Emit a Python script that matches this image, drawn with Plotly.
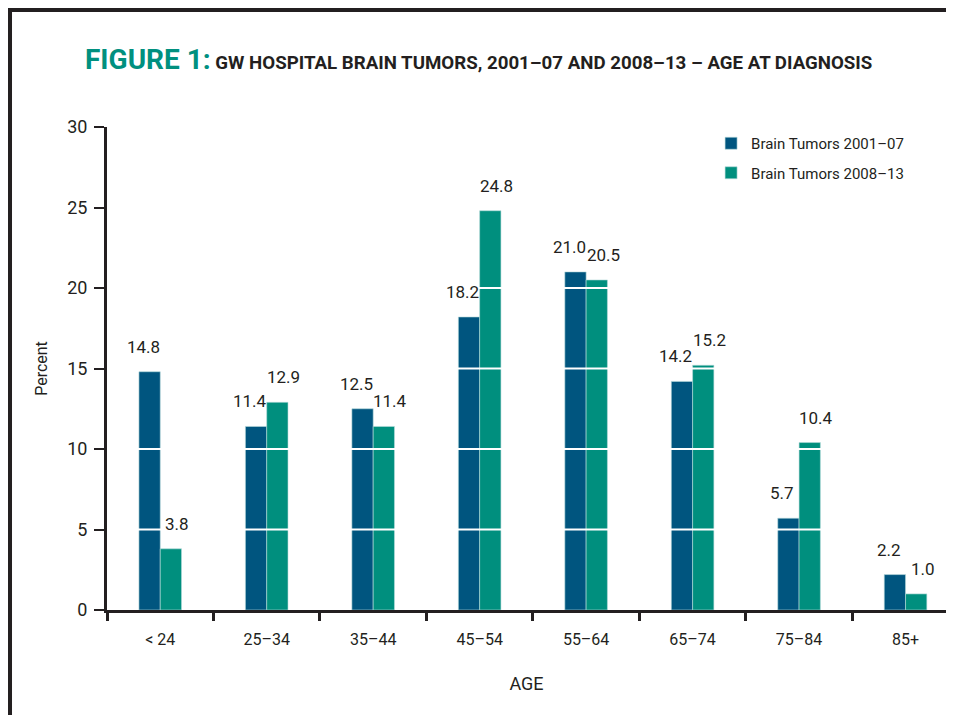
import plotly.graph_objects as go

# Age groups and percentages per period
age_groups = ["< 24", "25–34", "35–44", "45–54", "55–64", "65–74", "75–84", "85+"]
tumors_2001_07 = [14.8, 11.4, 12.5, 18.2, 21.0, 14.2, 5.7, 2.2]
tumors_2008_13 = [3.8, 12.9, 11.4, 24.8, 20.5, 15.2, 10.4, 1.0]
y_ticks = [0, 5, 10, 15, 20, 25, 30]

DARK = "#00557f"
TEAL = "#008f7e"
INK = "#231f20"
FONT = "Roboto, Liberation Sans, sans-serif"

fig = go.Figure()
fig.add_trace(go.Bar(x=age_groups, y=tumors_2001_07, name="Brain Tumors 2001–07",
                     legendgroup="a",
                     marker=dict(color=DARK, line=dict(color="#b9dcdc", width=0.6))))
fig.add_trace(go.Bar(x=age_groups, y=tumors_2008_13, name="Brain Tumors 2008–13",
                     legendgroup="b",
                     marker=dict(color=TEAL, line=dict(color="#b9dcdc", width=0.6))))

# Value labels above the bars, nudged apart like the original
annotations = []
for vals, shift in [(tumors_2001_07, -17), (tumors_2008_13, 17)]:
    for i, v in enumerate(vals):
        annotations.append(dict(
            x=i, y=v, xref="x", yref="y", text=f"{v:.1f}", showarrow=False,
            xshift=shift, yshift=25,
            font=dict(family=FONT, size=17, color=INK),
        ))

# White grid lines drawn over the bars
shapes = []
for t in y_ticks[1:-1]:
    shapes.append(dict(type="line", xref="paper", yref="y", x0=0, x1=1, y0=t, y1=t,
                       line=dict(color="white", width=2), layer="above"))

# Frame around the figure
shapes.append(dict(type="line", xref="paper", yref="paper", x0=-0.1156, x1=-0.1156,
                   y0=1.242, y1=-0.25, line=dict(color=INK, width=4), layer="above"))
shapes.append(dict(type="line", xref="paper", yref="paper", x0=-0.118, x1=1.05,
                   y0=1.242, y1=1.242, line=dict(color=INK, width=4), layer="above"))

fig.update_layout(
    width=938,
    height=707,
    margin=dict(l=99, r=0, t=119, b=105),
    plot_bgcolor="white",
    paper_bgcolor="white",
    barmode="group",
    bargap=0.6,
    bargroupgap=0,
    font=dict(family=FONT, size=17, color=INK),
    title=dict(
        text="<b><span style='color:#00907f;font-size:28px'>FIGURE 1:</span> "
             "GW HOSPITAL BRAIN TUMORS, 2001–07 AND 2008–13 – AGE AT DIAGNOSIS</b>",
        xref="container", x=77 / 938, xanchor="left",
        yref="container", y=1 - 54 / 707, yanchor="middle",
        font=dict(family=FONT, size=18.7, color=INK),
    ),
    legend=dict(x=0.72, y=1.0, xanchor="left", yanchor="top",
                font=dict(family=FONT, size=15, color=INK),
                bgcolor="rgba(0,0,0,0)", tracegroupgap=7),
    annotations=annotations,
    shapes=shapes,
)

fig.update_xaxes(
    range=[-0.5, 7.38],
    showline=True, linecolor=INK, linewidth=3,
    ticks="outside", tickson="boundaries", ticklen=8, tickwidth=3, tickcolor=INK,
    ticklabelstandoff=13,
    showgrid=False,
    title=dict(text="AGE", font=dict(family=FONT, size=18, color=INK), standoff=30),
    tickfont=dict(family=FONT, size=16, color=INK),
)
fig.update_yaxes(
    range=[0, 30], tickvals=y_ticks,
    showline=True, linecolor=INK, linewidth=3,
    ticks="outside", ticklen=10, tickwidth=2, tickcolor=INK,
    ticklabelstandoff=3,
    showgrid=False, zeroline=False,
    title=dict(text="Percent", font=dict(family=FONT, size=16, color=INK), standoff=16),
    tickfont=dict(family=FONT, size=18, color=INK),
)

fig.write_html("out.html")
